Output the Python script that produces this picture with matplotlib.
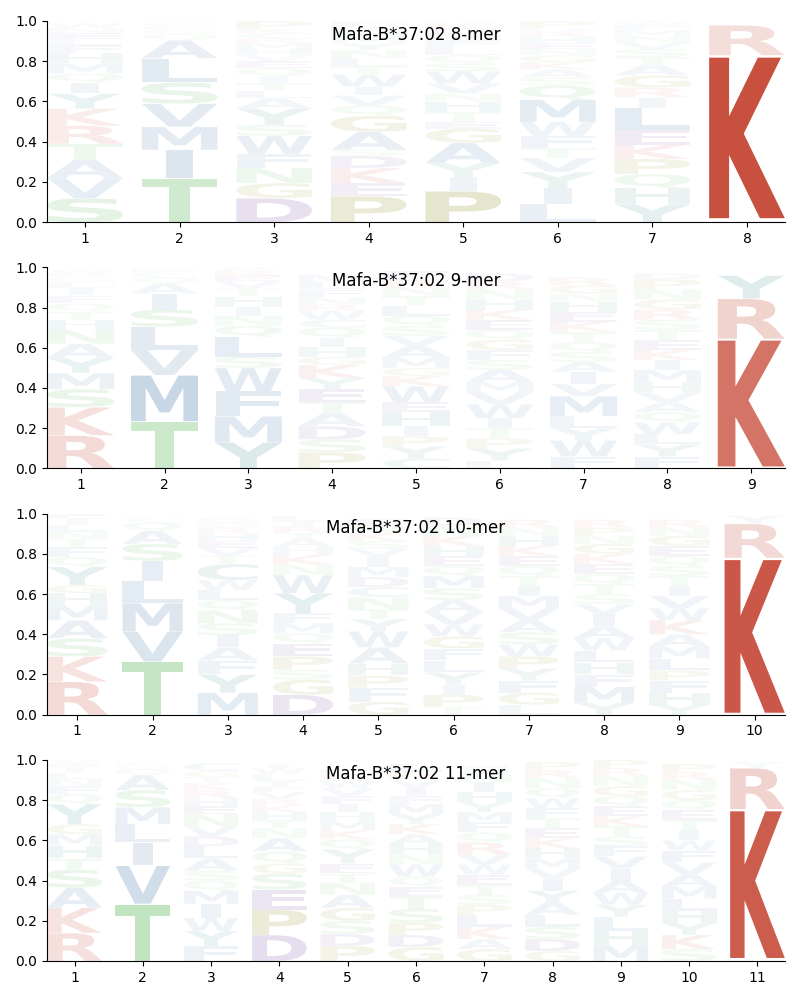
import matplotlib
matplotlib.use("Agg")
from matplotlib import pyplot as plt
from matplotlib.textpath import TextPath
from matplotlib.font_manager import FontProperties
from matplotlib.patches import PathPatch
from matplotlib.transforms import Affine2D
import numpy as np

# letters per column, bottom to top, with their heights
mer8_letters = ["SVATRKYIQMHFLENW", "TIMVSLAQGCF", "DGNFWSYALTIQEVHMRCKP",
                "PEKDSAGQVIWTLNYMHRF", "PIYAGETHNVWSQLFMDKR", "LIYVTFWMQSAKGNEHRDP",
                "YHQPKELIRGATSVNMFW", "AQKRH"]
mer8_heights = [[.12, .10, .09, .08, .09, .085, .075, .055, .045, .05, .05, .04, .03, .03, .025, .025],
                [.22, .14, .115, .115, .105, .12, .09, .03, .02, .02, .015],
                [.12, .075, .075, .07, .09, .055, .08, .05, .04, .035, .035, .04, .035, .03, .03, .03, .025, .025, .02, .04],
                [.13, .065, .075, .06, .03, .09, .08, .05, .05, .045, .06, .04, .04, .04, .035, .03, .03, .025, .025],
                [.155, .07, .07, .1, .07, .035, .05, .05, .04, .05, .06, .04, .04, .04, .035, .03, .03, .025, .02],
                [.09, .08, .08, .07, .05, .06, .07, .11, .07, .04, .04, .035, .035, .03, .03, .03, .025, .02, .035],
                [.09, .08, .07, .075, .07, .075, .11, .05, .05, .06, .05, .04, .04, .035, .03, .03, .025, .02],
                [.01, .01, .81, .15, .01]]

mer9_letters = ["RKSMYANHTQFILGEW", "TMVLSIAQCF", "YMFWSLQNIHTVERA",
                "PSDATEYKGHIQCWRNFLM", "CYPIHEWKGMAVSQLTNRF", "LYPTIWVMASFGQEKHNRD",
                "FWYLMVIASQTKEHNGR", "FYLWQAVHMIKETSRGNPD", "AKRY"]
mer9_heights = [[.165, .14, .09, .08, .075, .07, .07, .05, .04, .04, .04, .035, .03, .025, .02, .02],
                [.235, .23, .125, .115, .085, .08, .05, .03, .02, .02],
                [.13, .13, .125, .115, .055, .1, .055, .05, .045, .05, .04, .035, .03, .025, .02],
                [.08, .065, .065, .065, .055, .065, .055, .065, .04, .05, .045, .05, .04, .045, .03, .035, .04, .035, .04],
                [.05, .06, .05, .05, .07, .05, .08, .05, .04, .05, .06, .05, .05, .05, .05, .05, .04, .04, .04],
                [.04, .06, .05, .05, .05, .07, .06, .05, .06, .05, .05, .05, .05, .05, .05, .05, .05, .04, .04],
                [.06, .08, .06, .06, .1, .06, .06, .05, .05, .05, .05, .05, .05, .05, .04, .04, .04],
                [.06, .06, .05, .06, .05, .05, .05, .05, .06, .05, .05, .05, .05, .05, .05, .05, .05, .05, .03],
                [.01, .635, .2, .115]]

mer10_letters = ["RKSAMHGYQFTNLIE", "TVMLISAQCF", "MYFAISNQLWCTVEHRGD",
                 "DGSPEQMFYWNKHATRIL", "GFPHAWYTNCDMIVSKQE", "TPIYLFGWVASMQEHKND",
                 "LGFYPWSAVMITQEKHNR", "YMFHLWAIVSTQEKGNPR", "YHFPLMAKWVITSQEGNR", "AKRY"]
mer10_heights = [[.165, .125, .09, .09, .075, .06, .04, .09, .05, .05, .04, .035, .035, .03, .025],
                 [.265, .15, .14, .11, .1, .085, .065, .04, .02, .015],
                 [.11, .09, .07, .065, .06, .06, .065, .05, .05, .05, .08, .04, .04, .035, .035, .03, .025, .02],
                 [.1, .075, .05, .065, .065, .05, .05, .05, .1, .09, .05, .05, .04, .04, .03, .03, .025, .03],
                 [.065, .07, .06, .06, .08, .08, .06, .05, .06, .05, .05, .05, .05, .04, .04, .04, .04, .03],
                 [.04, .06, .05, .06, .06, .06, .06, .06, .06, .06, .06, .06, .05, .05, .05, .05, .05, .04],
                 [.05, .06, .06, .06, .06, .06, .06, .06, .06, .06, .05, .05, .05, .05, .05, .05, .04, .04],
                 [.06, .08, .06, .06, .06, .06, .06, .06, .05, .05, .05, .05, .05, .05, .05, .04, .04, .04],
                 [.05, .06, .06, .05, .06, .06, .06, .07, .06, .06, .05, .05, .05, .05, .05, .05, .04, .04],
                 [.01, .77, .17, .04]]

mer11_letters = ["RKASTHMGYQFNLIEV", "TVILMSAQGC", "FYWIMQSALDVNEHRKTGC",
                 "DPESGQANTHKRVFYLWI", "PDSGANTEYQKMHIFVWRL", "GDPSTEQWNHAKYMFIVRL",
                 "GAKLPSTEWVRQFMYHINS", "GDSLAYIVMHKETFWQNRP", "MHLYWAIVFSTKEQGNRP",
                 "SKYHLMAVFWITEQGNRP", "AKRY"]
mer11_heights = [[.14, .125, .1, .09, .055, .065, .055, .05, .1, .05, .04, .035, .03, .025, .02, .02],
                 [.285, .19, .115, .09, .085, .085, .075, .03, .02, .015],
                 [.075, .075, .065, .07, .065, .05, .05, .06, .06, .05, .05, .06, .04, .04, .04, .035, .03, .03, .04],
                 [.13, .125, .1, .08, .05, .06, .065, .05, .04, .04, .035, .03, .035, .03, .03, .03, .03, .025],
                 [.075, .06, .065, .065, .065, .06, .045, .05, .07, .05, .045, .045, .045, .04, .04, .04, .035, .03, .03],
                 [.07, .06, .06, .07, .06, .05, .05, .06, .05, .05, .05, .05, .05, .05, .04, .04, .04, .04, .04],
                 [.06, .05, .06, .06, .05, .05, .05, .05, .05, .05, .06, .05, .05, .05, .05, .05, .05, .04, .04],
                 [.05, .06, .06, .06, .06, .06, .06, .05, .05, .05, .05, .05, .05, .05, .05, .05, .05, .04, .04],
                 [.08, .07, .07, .06, .06, .06, .06, .06, .05, .05, .05, .05, .05, .05, .05, .05, .04, .04],
                 [.06, .07, .06, .06, .06, .06, .06, .06, .06, .05, .05, .05, .05, .05, .05, .05, .04, .04],
                 [.015, .74, .205, .03]]

panels = [("Mafa-B*37:02 8-mer", mer8_letters, mer8_heights),
          ("Mafa-B*37:02 9-mer", mer9_letters, mer9_heights),
          ("Mafa-B*37:02 10-mer", mer10_letters, mer10_heights),
          ("Mafa-B*37:02 11-mer", mer11_letters, mer11_heights)]

colors = {}
for aa in "KR":
    colors[aa] = "#c8503f"
for aa in "AVLIMFW":
    colors[aa] = "#4175a9"
for aa in "STNQ":
    colors[aa] = "#50b450"
for aa in "DE":
    colors[aa] = "#663399"
for aa in "PG":
    colors[aa] = "#808000"
for aa in "YHC":
    colors[aa] = "#2a8282"

fp = FontProperties(family="DejaVu Sans", weight="bold")
glyphs = {}

def getGlyph(aa):
    if aa not in glyphs:
        glyphs[aa] = TextPath((0, 0), aa, size=1, prop=fp)
    return glyphs[aa]

def drawLetter(ax, aa, x, y, w, h, alpha):
    path = getGlyph(aa)
    ext = path.get_extents()
    # don't stretch narrow letters (like I) wider than E would be
    sx = min(w / ext.width, w / getGlyph("E").get_extents().width)
    lw = ext.width * sx
    tr = Affine2D().translate(-ext.x0, -ext.y0).scale(sx, h / ext.height).translate(x - lw / 2, y)
    ax.add_patch(PathPatch(tr.transform_path(path), facecolor=colors[aa], edgecolor="none",
                           alpha=alpha, lw=0))

fig, axes = plt.subplots(4, 1, figsize=(8, 10), dpi=100)
plt.subplots_adjust(left=0.059, right=0.981, top=0.979, bottom=0.039, hspace=0.224)

for ax, (title, letters, heights) in zip(axes, panels):
    n = len(letters)
    for i in range(n):
        base = 0.0
        for aa, h in zip(letters[i], heights[i]):
            drawLetter(ax, aa, i + 1, base, 0.8, h * 0.985, min(1.0, h / 0.8))
            base += h
    ax.set_xlim(0.6, n + 0.4)
    ax.set_ylim(0, 1)
    ax.set_xticks(range(1, n + 1))
    ax.set_yticks(np.arange(0, 1.01, 0.2))
    ax.spines["top"].set_visible(False)
    ax.spines["right"].set_visible(False)
    ax.text(0.5, 0.93, title, transform=ax.transAxes, ha="center", va="center", fontsize=12)

plt.savefig("out.png", dpi=100)
